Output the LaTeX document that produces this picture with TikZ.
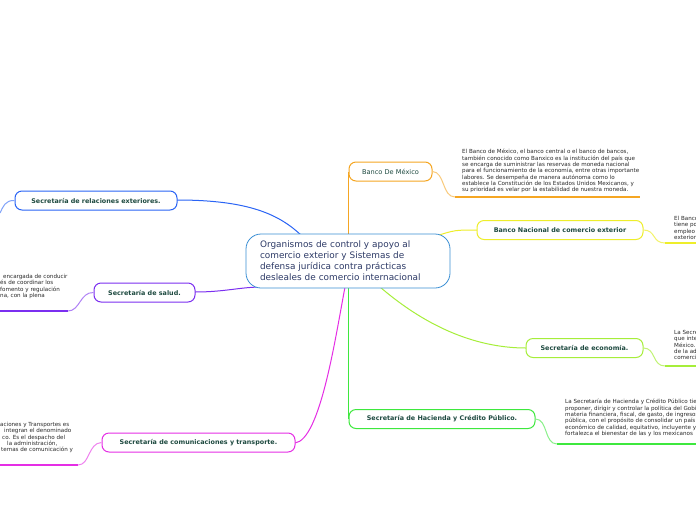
\documentclass[tikz,border=0pt]{standalone}
\usepackage{fontspec}
\setmainfont{DejaVu Sans}
\definecolor{cblue}{HTML}{3B8FD4}
\definecolor{ctext}{HTML}{2D3A66}
\definecolor{corange}{HTML}{F5A623}
\definecolor{cyellow}{HTML}{EEEE2A}
\definecolor{clime}{HTML}{A6EE3A}
\definecolor{cgreen}{HTML}{3EE83E}
\definecolor{crel}{HTML}{2A64F5}
\definecolor{cpurple}{HTML}{7B2FF0}
\definecolor{cmag}{HTML}{E52EE5}
\definecolor{labelc}{HTML}{1E4A40}
\definecolor{desct}{HTML}{2A2A2A}
\begin{document}
\begin{tikzpicture}[x=1pt,y=-1pt,
  topic/.style={draw, rounded corners=7pt, fill=white, line width=1pt, inner sep=0pt,
    minimum height=19pt, font=\fontsize{6.4}{7}\selectfont\bfseries, text=labelc},
  desc/.style={anchor=north west, align=left, inner sep=0pt,
    font=\fontsize{5.6}{6.35}\selectfont, text=desct},
  conn/.style={line width=1pt},
  uline/.style={line width=1.8pt}]
\useasboundingbox (0,0) rectangle (696,520);
\fill[white] (0,0) rectangle (696,520);
\clip (0,0) rectangle (696,520);

% connection points
\coordinate (pBM) at (348,236);
\coordinate (pBN) at (436,236);
\coordinate (pEC) at (380,287);
\coordinate (pHA) at (348,287);
\coordinate (pRE) at (302,236);
\coordinate (pSA) at (262,287);
\coordinate (pCO) at (345,287);

% connectors from central (drawn first)
\draw[conn, corange] (pBM) -- (348,172) coordinate (qBM);
\draw[conn, cyellow] (pBN) .. controls (455,230) .. (477,230) coordinate (qBN);
\draw[conn, clime] (pEC) .. controls (430,330) and (480,348) .. (526,348) coordinate (qEC);
\draw[conn, cgreen] (pHA) -- (348,419) coordinate (qHA);
\draw[conn, crel] (177,200) coordinate (qRE) .. controls (250,200) and (280,215) .. (pRE);
\draw[conn, cpurple] (195,292) coordinate (qSA) .. controls (225,292) and (240,287) .. (pSA);
\draw[conn, cmag] (295,443) coordinate (qCO) .. controls (320,440) and (335,340) .. (pCO);

% central node
\node[draw=cblue, line width=0.8pt, rounded corners=15pt, fill=white, minimum width=204pt,
  minimum height=54pt, text width=176pt, align=left, font=\fontsize{8.9}{11}\selectfont, text=ctext, inner sep=0pt]
  (c) at (348,261) {Organismos de control y apoyo al\\comercio exterior y Sistemas de\\defensa jurídica contra prácticas\\desleales de comercio internacional};

% topic nodes
\node[topic, draw=corange, minimum width=83pt, font=\fontsize{6.6}{7}\selectfont] (bm) at (390.5,171.5) {Banco De México};
\node[topic, draw=cyellow, minimum width=166pt] (bn) at (560,230) {Banco Nacional de comercio exterior};
\node[topic, draw=clime, minimum width=117pt] (ec) at (584.5,348) {Secretaría de economía.};
\node[topic, draw=cgreen, minimum width=186pt] (ha) at (442,419) {Secretaría de Hacienda y Crédito Público.};
\node[topic, draw=crel, minimum width=162pt] (re) at (96,200.5) {Secretaría de relaciones exteriores.};
\node[topic, draw=cpurple, minimum width=101pt] (sa) at (144.5,292.5) {Secretaría de salud.};
\node[topic, draw=cmag, minimum width=193pt] (co) at (198.5,442.5) {Secretaría de comunicaciones y transporte.};

% right sub-branches
\draw[conn, corange!60] (bm.east) .. controls (445,172) and (442,197) .. (455,197) coordinate (uBM);
\draw[uline, corange] (uBM) -- (640,197) coordinate (eBM);
\draw[conn, cyellow!70] (bn.east) .. controls (656,230) and (652,243) .. (665,243) coordinate (uBN);
\draw[uline, cyellow] (uBN) -- (700,243) coordinate (eBN);
\draw[conn, clime!70] (ec.east) .. controls (656,348) and (652,366) .. (665,366) coordinate (uEC);
\draw[uline, clime] (uEC) -- (700,366) coordinate (eEC);
\draw[conn, cgreen!60] (ha.east) .. controls (548,419) and (544,444) .. (557,444) coordinate (uHA);
\draw[uline, cgreen] (uHA) -- (700,444) coordinate (eHA);

% left sub-branches
\draw[conn, crel!60] (re.west) .. controls (5,200) and (3,207) .. (0,213) coordinate (uRE);
\draw[conn, cpurple!60] (sa.west) .. controls (80,292) and (80,311) .. (68,311) coordinate (uSA);
\draw[uline, cpurple] (uSA) -- (-2,311) coordinate (eSA);
\draw[conn, cmag!60] (co.west) .. controls (88,443) and (90,465) .. (78,465) coordinate (uCO);
\draw[uline, cmag] (uCO) -- (-2,465) coordinate (eCO);

% descriptions
\node[desc] (dBM) at (462,149) {El Banco de México, el banco central o el banco de bancos,\\también conocido como Banxico es la institución del país que\\se encarga de suministrar las reservas de moneda nacional\\para el funcionamiento de la economía, entre otras importante\\labores. Se desempeña de manera autónoma como lo\\establece la Constitución de los Estados Unidos Mexicanos, y\\su prioridad es velar por la estabilidad de nuestra moneda.};
\node[desc] (dBN) at (674,216) {El Banco\\tiene po\\empleo\\exterior};
\node[desc] (dEC) at (674,330) {La Secre\\que inte\\México.\\de la ad\\comerci};
\node[desc] (dHA) at (565,399) {La Secretaría de Hacienda y Crédito Público tier\\proponer, dirigir y controlar la política del Gobie\\materia financiera, fiscal, de gasto, de ingresos\\pública, con el propósito de consolidar un país c\\económico de calidad, equitativo, incluyente y s\\fortalezca el bienestar de las y los mexicanos};
\node[desc] (dSA) at (0,274) {\hspace{3pt}encargada de conducir\\és de coordinar los\\fomento y regulación\\na, con la plena};
\node[desc] (dCO) at (0,422) {aciones y Transportes es\\\hspace{4pt}integran el denominado\\\hspace{2pt}co. Es el despacho del\\\hspace{7pt}la administración,\\\hspace{1pt}temas de comunicación y};
\end{tikzpicture}
\end{document}
